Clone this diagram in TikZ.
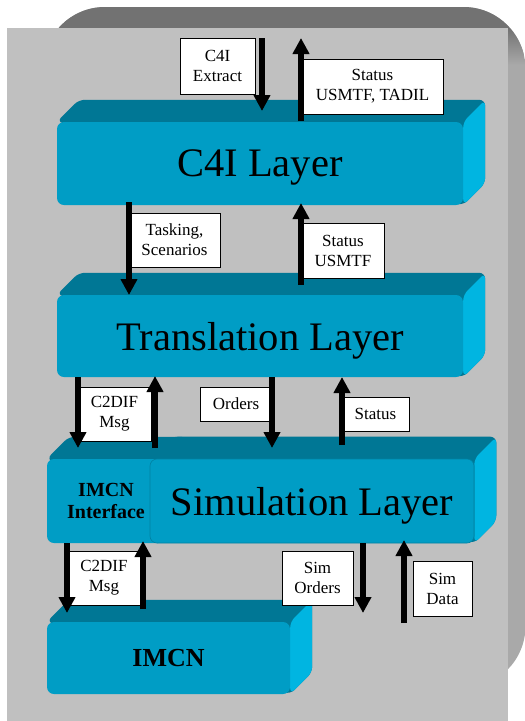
\documentclass[tikz,border=0pt]{standalone}
\usepackage{fontspec}
\setmainfont{Liberation Serif}
\usetikzlibrary{arrows.meta, backgrounds}
\definecolor{slabfront}{RGB}{0,157,197}
\definecolor{slabtop}{RGB}{0,119,149}
\definecolor{slabside}{RGB}{0,181,225}
\definecolor{panel}{RGB}{192,192,192}
\definecolor{shdark}{RGB}{114,114,114}
\definecolor{shlite}{RGB}{169,169,169}
\tikzset{
  slab/.style ={fill=slabfront, rounded corners=7pt, inner sep=0pt, align=center},
  big/.style  ={font=\fontsize{40.5}{44}\selectfont, text depth=0pt},
  seam/.style ={draw=slabfront!82!black, line width=0.6pt},
  tag/.style  ={draw, fill=white, line width=0.9pt, inner sep=0pt, align=center, font=\fontsize{17}{20}\selectfont},
  flow/.style ={-{Triangle[length=16pt,width=16pt]}, line width=5.5pt},
}
% top and right faces of a layer, put behind its front node
\newcommand{\slabback}[1]{%
  \begin{scope}[on background layer]
    \fill[slabtop, rounded corners=6pt] (#1.north west) -- ++(22,-22)
      -- ([shift={(22,-22)}]#1.north east) -- ([shift={(22,-22)}]#1.south east)
      -- (#1.south east) -- cycle;
    \fill[slabside, rounded corners=6pt] (#1.north east) -- ([shift={(22,-22)}]#1.north east)
      -- ([shift={(22,-22)}]#1.south east) -- (#1.south east) -- cycle;
  \end{scope}}
\begin{document}
\begin{tikzpicture}[x=1pt, y=-1pt]
  \useasboundingbox (0,0) rectangle (525,721);
  % panel and its shadow
  \begin{scope}[on background layer]
    \fill[shlite, rounded corners=62] (43,7) rectangle (525.5,688);
    \begin{scope}
      \clip[rounded corners=62] (43,7) rectangle (525.5,688);
      \fill[shdark] (0,0) rectangle (525,28);
      \shade[top color=shdark, bottom color=shlite] (0,28) rectangle (525,65);
    \end{scope}
    \fill[panel] (7,28) rectangle (508,721);
  \end{scope}
  % layers
  \node[slab, big, minimum width=406, minimum height=83] (c4i) at (260,163.5) {C4I Layer};
  \slabback{c4i}
  \node[slab, big, minimum width=406, minimum height=82] (trans) at (260,336) {Translation Layer};
  \slabback{trans}
  \node[slab, font=\fontsize{20}{22}\selectfont\bfseries, minimum width=118, minimum height=84] (imcnif) at (106,501) {IMCN\\Interface};
  \slabback{imcnif}
  \node[slab, big, seam, minimum width=324, minimum height=84] (sim) at (312,501) {Simulation Layer};
  \slabback{sim}
  \node[slab, font=\fontsize{26}{30}\selectfont\bfseries, minimum width=243, minimum height=72] (imcn) at (168.5,658) {IMCN};
  \slabback{imcn}
  % message tags
  \node[tag, minimum width=75,  minimum height=56] (extract) at (217.5,66)   {C4I\\Extract};
  \node[tag, minimum width=141, minimum height=55] (stC4I)   at (372.5,86.5) {Status\\USMTF, TADIL};
  \node[tag, minimum width=91,  minimum height=54] (tasking) at (174.5,240)  {Tasking,\\Scenarios};
  \node[tag, minimum width=82,  minimum height=55] (stTrans) at (343,250.5)  {Status\\USMTF};
  \node[tag, minimum width=73,  minimum height=54] (c2dA)    at (114.5,414)  {C2DIF\\Msg};
  \node[tag, minimum width=72,  minimum height=34] (orders)  at (236,404)    {Orders};
  \node[tag, minimum width=67,  minimum height=34] (stSim)   at (375.5,414)  {Status};
  \node[tag, minimum width=72,  minimum height=54] (c2dB)    at (104,578)    {C2DIF\\Msg};
  \node[tag, minimum width=71,  minimum height=54] (simOrd)  at (317.5,578)  {Sim\\Orders};
  \node[tag, minimum width=59,  minimum height=55] (simDat)  at (442.5,588.5) {Sim\\Data};
  % arrow ends
  \coordinate (exA) at (262,38);  \coordinate (exB) at (262,111);
  \coordinate (s1A) at (301,121); \coordinate (s1B) at (301,38);
  \coordinate (tkA) at (129,202); \coordinate (tkB) at (129,295);
  \coordinate (s2A) at (301,285); \coordinate (s2B) at (301,203);
  \coordinate (cdA) at (78,377);  \coordinate (cdB) at (78,448);
  \coordinate (cuA) at (155,448); \coordinate (cuB) at (155,376);
  \coordinate (orA) at (272,377); \coordinate (orB) at (272,448);
  \coordinate (s3A) at (342,445); \coordinate (s3B) at (342,377);
  \coordinate (ldA) at (67,543);  \coordinate (ldB) at (67,613);
  \coordinate (luA) at (143,609); \coordinate (luB) at (143,541);
  \coordinate (soA) at (363,543); \coordinate (soB) at (363,613);
  \coordinate (sdA) at (404,623); \coordinate (sdB) at (404,540);
  \draw[flow] (exA) -- (exB); \draw[flow] (s1A) -- (s1B);
  \draw[flow] (tkA) -- (tkB); \draw[flow] (s2A) -- (s2B);
  \draw[flow] (cdA) -- (cdB); \draw[flow] (cuA) -- (cuB);
  \draw[flow] (orA) -- (orB); \draw[flow] (s3A) -- (s3B);
  \draw[flow] (ldA) -- (ldB); \draw[flow] (luA) -- (luB);
  \draw[flow] (soA) -- (soB); \draw[flow] (sdA) -- (sdB);
\end{tikzpicture}
\end{document}
